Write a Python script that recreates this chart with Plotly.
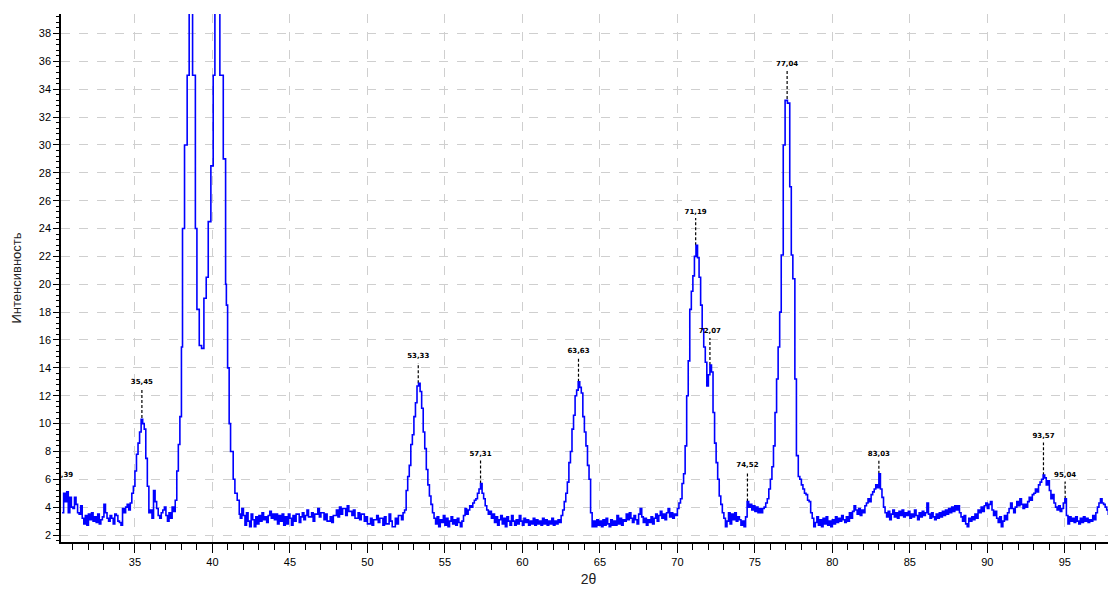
import plotly.graph_objects as go

# ---- scan data: (2theta, intensity) ----
scan_30_35 = [
    (30.3, 3.6), (30.4, 5.0), (30.5, 4.4), (30.6, 5.1), (30.7, 3.6), (30.8, 4.7), (30.9, 4.0), (31.0, 3.9),
    (31.1, 4.7), (31.2, 4.2), (31.3, 3.6), (31.4, 3.5), (31.5, 4.1), (31.6, 3.2), (31.7, 2.8), (31.8, 3.4),
    (31.9, 2.7), (32.0, 3.5), (32.1, 3.1), (32.2, 3.6), (32.3, 3.0), (32.4, 3.3), (32.5, 2.9), (32.6, 3.5),
    (32.7, 2.8), (32.8, 3.1), (32.9, 3.3), (33.0, 4.2), (33.1, 3.6), (33.2, 3.2), (33.3, 3.0), (33.4, 3.4),
    (33.5, 3.2), (33.6, 2.8), (33.7, 3.5), (33.8, 3.4), (33.9, 3.0), (34.0, 2.9), (34.1, 2.7), (34.2, 3.9),
    (34.3, 3.6), (34.4, 4.0), (34.5, 4.2), (34.6, 3.8), (34.7, 4.3), (34.8, 5.0), (34.9, 5.5),
]
scan_35_38 = [
    (35.0, 6.6), (35.1, 7.8), (35.2, 8.6), (35.3, 9.4), (35.4, 10.3), (35.5, 10.0), (35.6, 9.6), (35.7, 7.5),
    (35.8, 5.5), (35.9, 3.6), (36.0, 3.8), (36.1, 3.2), (36.2, 5.2), (36.3, 4.4), (36.4, 3.9), (36.5, 3.4),
    (36.6, 3.2), (36.7, 3.6), (36.8, 3.8), (36.9, 4.0), (37.0, 3.4), (37.1, 3.0), (37.2, 3.6), (37.3, 3.2),
    (37.4, 4.0), (37.5, 3.7), (37.6, 4.5), (37.7, 6.6), (37.8, 8.5), (37.9, 10.5),
]
scan_38_42 = [
    (38.0, 15.5), (38.07, 24.0), (38.2, 30.0), (38.37, 35.0), (38.5, 42.0), (38.72, 35.0), (38.9, 24.0),
    (39.0, 18.2), (39.15, 15.6), (39.3, 15.4), (39.45, 19.0), (39.6, 20.5), (39.73, 24.5), (39.9, 28.5),
    (40.05, 35.0), (40.16, 42.0), (40.48, 35.0), (40.7, 29.0), (40.85, 20.0), (40.9, 18.5), (40.98, 14.0),
    (41.08, 10.0), (41.17, 8.0), (41.34, 6.0), (41.45, 5.0), (41.6, 4.5), (41.73, 3.5), (41.8, 3.2),
]
scan_42_52 = [
    (41.9, 3.9), (42.0, 3.4), (42.1, 2.7), (42.2, 3.6), (42.3, 3.0), (42.4, 2.6), (42.5, 3.5), (42.6, 3.1),
    (42.7, 2.6), (42.8, 3.3), (42.9, 2.8), (43.0, 3.4), (43.1, 3.0), (43.2, 3.6), (43.3, 3.1), (43.4, 3.3),
    (43.5, 2.9), (43.6, 3.4), (43.7, 3.7), (43.8, 3.2), (43.9, 3.5), (44.0, 3.1), (44.1, 3.5), (44.2, 2.8),
    (44.3, 3.4), (44.4, 3.0), (44.5, 3.5), (44.6, 2.7), (44.7, 3.3), (44.8, 2.8), (44.9, 3.5), (45.0, 3.2),
    (45.1, 2.7), (45.2, 3.4), (45.3, 3.0), (45.4, 3.5), (45.6, 2.9), (45.7, 3.3), (45.8, 3.6), (45.9, 3.1),
    (46.0, 3.4), (46.1, 3.8), (46.2, 3.3), (46.4, 3.6), (46.5, 3.0), (46.6, 3.5), (46.8, 3.9), (46.9, 3.3),
    (47.0, 3.6), (47.2, 3.1), (47.3, 3.5), (47.4, 3.0), (47.6, 3.3), (47.7, 2.9), (47.8, 3.4), (48.0, 3.8),
    (48.1, 3.3), (48.2, 4.0), (48.3, 3.5), (48.4, 3.9), (48.6, 3.4), (48.7, 4.1), (48.8, 3.7), (49.0, 3.4),
    (49.1, 3.8), (49.2, 3.2), (49.4, 3.6), (49.5, 3.1), (49.6, 3.5), (49.8, 3.0), (49.9, 3.3), (50.0, 2.8),
    (50.2, 3.2), (50.3, 2.7), (50.4, 3.1), (50.6, 3.4), (50.7, 2.9), (50.8, 3.2), (51.0, 2.7), (51.1, 3.3),
    (51.2, 2.8), (51.4, 3.5), (51.5, 3.0), (51.6, 2.6), (51.8, 3.2), (51.9, 2.8), (52.0, 3.4), (52.2, 3.1),
    (52.3, 3.6),
]
scan_52_58 = [
    (52.4, 3.8), (52.5, 5.2), (52.6, 6.2), (52.7, 7.0), (52.8, 8.5), (52.9, 9.2), (53.0, 10.5), (53.1, 11.5),
    (53.2, 12.7), (53.3, 12.9), (53.4, 12.3), (53.5, 11.1), (53.6, 9.4), (53.7, 8.2), (53.8, 6.7), (53.9, 5.6),
    (54.0, 4.8), (54.1, 4.2), (54.2, 3.6), (54.3, 3.2), (54.4, 2.8), (54.5, 3.3), (54.6, 2.6), (54.7, 3.1),
    (54.8, 2.9), (54.9, 3.4), (55.0, 2.7), (55.1, 3.2), (55.2, 2.6), (55.3, 3.0), (55.4, 3.3), (55.5, 2.8),
    (55.6, 3.1), (55.7, 2.7), (55.8, 3.2), (55.9, 2.9), (56.0, 2.6), (56.1, 3.0), (56.2, 3.4), (56.3, 3.9),
    (56.4, 3.5), (56.5, 3.8), (56.6, 4.1), (56.7, 4.0), (56.8, 4.3), (56.9, 4.5), (57.0, 4.6), (57.1, 5.0),
    (57.2, 5.3), (57.3, 5.7), (57.4, 5.0), (57.5, 4.6), (57.6, 4.1), (57.7, 3.8), (57.8, 3.5), (57.9, 3.7),
]
scan_58_65 = [
    (58.0, 3.2), (58.1, 3.5), (58.2, 2.9), (58.3, 3.3), (58.4, 2.7), (58.5, 3.1), (58.6, 3.4), (58.7, 2.8),
    (58.8, 3.2), (58.9, 2.6), (59.0, 3.3), (59.1, 3.0), (59.2, 2.7), (59.3, 3.4), (59.4, 3.0), (59.5, 2.7),
    (59.6, 3.1), (59.7, 2.8), (59.8, 3.4), (59.9, 3.0), (60.0, 2.7), (60.1, 3.2), (60.2, 2.9), (60.3, 3.1),
    (60.4, 2.7), (60.5, 3.0), (60.6, 2.8), (60.7, 3.2), (60.8, 2.7), (60.9, 3.1), (61.0, 2.8), (61.1, 3.0),
    (61.2, 2.7), (61.3, 3.2), (61.4, 2.8), (61.5, 3.1), (61.6, 2.7), (61.7, 3.0), (61.8, 2.8), (61.9, 3.2),
    (62.0, 2.7), (62.1, 3.0), (62.2, 2.8), (62.3, 3.1), (62.4, 2.9), (62.5, 3.4), (62.6, 3.8), (62.7, 4.4),
    (62.8, 5.0), (62.9, 5.8), (63.0, 7.2), (63.1, 8.0), (63.2, 9.6), (63.3, 10.6), (63.4, 12.0), (63.5, 12.4),
    (63.6, 13.0), (63.7, 12.6), (63.8, 12.2), (63.9, 10.5), (64.0, 9.4), (64.1, 8.4), (64.2, 7.0), (64.3, 6.0),
    (64.4, 3.6), (64.5, 2.6),
]
scan_65_70 = [
    (64.6, 3.0), (64.7, 2.6), (64.8, 3.1), (64.9, 2.7), (65.0, 3.0), (65.1, 2.6), (65.2, 3.1), (65.3, 2.7),
    (65.4, 3.2), (65.5, 2.8), (65.6, 2.6), (65.7, 3.1), (65.8, 2.7), (65.9, 3.0), (66.0, 2.7), (66.1, 3.4),
    (66.2, 2.8), (66.3, 3.2), (66.4, 2.7), (66.5, 3.1), (66.6, 3.0), (66.7, 3.5), (66.8, 3.1), (66.9, 3.6),
    (67.0, 3.2), (67.1, 2.9), (67.2, 3.4), (67.3, 3.1), (67.4, 2.8), (67.5, 3.5), (67.6, 3.9), (67.7, 3.3),
    (67.8, 2.9), (67.9, 3.2), (68.0, 2.7), (68.1, 3.1), (68.2, 2.9), (68.3, 3.3), (68.4, 2.8), (68.5, 3.2),
    (68.6, 3.5), (68.7, 3.0), (68.8, 3.4), (68.9, 3.7), (69.0, 3.2), (69.1, 3.5), (69.2, 3.1), (69.3, 3.6),
    (69.4, 3.9), (69.5, 3.3), (69.6, 3.6), (69.7, 3.2), (69.8, 3.5), (69.9, 3.4), (70.0, 3.9),
]
scan_70_79 = [
    (70.1, 4.3), (70.2, 4.6), (70.3, 5.7), (70.4, 6.4), (70.5, 8.4), (70.6, 12.0), (70.7, 14.5), (70.8, 18.2),
    (70.9, 19.5), (71.0, 20.6), (71.1, 22.0), (71.2, 22.8), (71.3, 21.9), (71.4, 20.5), (71.5, 18.5), (71.6, 16.8),
    (71.7, 15.5), (71.8, 14.4), (71.9, 12.7), (72.0, 13.5), (72.1, 14.2), (72.2, 13.7), (72.3, 10.8), (72.4, 8.6),
    (72.5, 7.2), (72.6, 6.0), (72.7, 4.8), (72.8, 4.2), (72.9, 3.6), (73.0, 3.2), (73.1, 2.6), (73.2, 3.0),
    (73.3, 3.6), (73.4, 2.8), (73.5, 3.5), (73.6, 3.1), (73.7, 3.6), (73.8, 3.0), (73.9, 3.3), (74.0, 3.1),
    (74.1, 2.7), (74.2, 3.0), (74.3, 2.6), (74.4, 3.3), (74.5, 4.4), (74.6, 4.0), (74.7, 4.2), (74.8, 3.8),
    (74.9, 4.1), (75.0, 3.7), (75.1, 4.0), (75.2, 3.6), (75.3, 3.9), (75.4, 3.6), (75.5, 3.9), (75.6, 4.0),
    (75.7, 4.3), (75.8, 4.6), (75.9, 5.3), (76.0, 6.0), (76.1, 6.9), (76.2, 8.4), (76.3, 10.8), (76.4, 13.2),
    (76.5, 15.5), (76.6, 18.0), (76.7, 22.1), (76.83, 30.0), (76.95, 33.2), (77.1, 33.0), (77.25, 27.0),
    (77.35, 22.1), (77.45, 20.4), (77.58, 13.2), (77.68, 7.7), (77.8, 6.2), (77.9, 6.0), (78.0, 5.6),
    (78.1, 5.3), (78.2, 5.0), (78.3, 4.9), (78.4, 4.5), (78.5, 4.4), (78.6, 3.6), (78.7, 3.2), (78.8, 2.6),
    (78.9, 2.9),
]
scan_79_89 = [
    (79.0, 3.3), (79.1, 2.7), (79.2, 3.1), (79.3, 2.6), (79.4, 3.2), (79.5, 2.8), (79.6, 3.3), (79.7, 2.7),
    (79.8, 3.0), (79.9, 2.6), (80.0, 3.1), (80.1, 2.8), (80.2, 3.3), (80.3, 2.9), (80.4, 3.2), (80.5, 3.0),
    (80.6, 3.4), (80.7, 3.1), (80.8, 2.9), (80.9, 3.3), (81.0, 3.0), (81.1, 3.6), (81.2, 3.2), (81.3, 3.7),
    (81.4, 4.1), (81.5, 3.8), (81.6, 3.5), (81.7, 3.9), (81.8, 3.4), (81.9, 3.8), (82.0, 3.6), (82.1, 4.1),
    (82.2, 4.3), (82.3, 4.6), (82.4, 4.4), (82.5, 4.9), (82.6, 5.1), (82.7, 5.3), (82.8, 5.6), (82.9, 5.4),
    (83.0, 6.4), (83.1, 5.3), (83.2, 4.7), (83.3, 4.0), (83.4, 3.6), (83.5, 3.3), (83.6, 3.7), (83.7, 3.1),
    (83.8, 3.5), (83.9, 3.8), (84.0, 3.3), (84.1, 3.6), (84.2, 3.2), (84.3, 3.7), (84.4, 3.4), (84.5, 3.8),
    (84.6, 3.3), (84.7, 3.6), (84.8, 3.4), (84.9, 3.7), (85.0, 3.2), (85.1, 3.5), (85.2, 3.3), (85.3, 3.8),
    (85.4, 3.4), (85.5, 3.1), (85.6, 3.6), (85.7, 3.3), (85.8, 3.7), (85.9, 3.4), (86.0, 3.6), (86.1, 4.3),
    (86.2, 3.5), (86.3, 3.2), (86.4, 3.6), (86.5, 3.3), (86.6, 3.1), (86.7, 3.5), (86.8, 3.2), (86.9, 3.6),
    (87.0, 3.3), (87.1, 3.7), (87.2, 3.4), (87.3, 3.8), (87.4, 3.5), (87.5, 3.9), (87.6, 3.6), (87.7, 4.0),
    (87.8, 3.7), (87.9, 4.1), (88.0, 3.8), (88.1, 4.1), (88.2, 3.6), (88.3, 3.3), (88.4, 3.0), (88.5, 3.4),
    (88.6, 2.8), (88.7, 2.6), (88.8, 3.2), (88.9, 3.0),
]
scan_89_98 = [
    (89.0, 3.3), (89.1, 3.1), (89.2, 3.5), (89.3, 3.2), (89.4, 3.8), (89.5, 3.6), (89.6, 4.0), (89.7, 3.7),
    (89.8, 4.1), (89.9, 4.3), (90.0, 3.9), (90.1, 4.2), (90.2, 4.4), (90.3, 3.8), (90.4, 3.4), (90.5, 3.7),
    (90.6, 3.2), (90.7, 2.9), (90.8, 3.3), (90.9, 2.6), (91.0, 3.0), (91.1, 3.4), (91.2, 3.1), (91.3, 3.6),
    (91.4, 3.9), (91.5, 4.3), (91.6, 3.9), (91.7, 3.6), (91.8, 4.0), (91.9, 4.4), (92.0, 4.1), (92.1, 4.6),
    (92.2, 4.2), (92.3, 3.9), (92.4, 4.2), (92.5, 4.0), (92.6, 4.4), (92.7, 4.7), (92.8, 4.5), (92.9, 4.9),
    (93.0, 5.0), (93.1, 5.3), (93.2, 5.1), (93.3, 5.6), (93.4, 5.8), (93.5, 6.0), (93.6, 6.3), (93.7, 6.1),
    (93.8, 5.6), (93.9, 5.9), (94.0, 5.2), (94.1, 4.6), (94.2, 4.9), (94.3, 4.3), (94.4, 4.0), (94.5, 3.8),
    (94.6, 4.1), (94.7, 3.7), (94.8, 3.9), (94.9, 4.3), (95.0, 4.6), (95.1, 3.4), (95.2, 2.8), (95.3, 3.3),
    (95.4, 3.0), (95.5, 3.2), (95.6, 2.9), (95.7, 3.3), (95.8, 3.0), (95.9, 2.8), (96.0, 3.2), (96.1, 2.9),
    (96.2, 3.3), (96.3, 3.0), (96.4, 3.2), (96.5, 2.9), (96.6, 3.1), (96.7, 3.0), (96.8, 3.4), (96.9, 3.1),
    (97.0, 3.6), (97.1, 4.0), (97.2, 4.3), (97.3, 4.6), (97.4, 4.3), (97.5, 4.2), (97.6, 4.0), (97.7, 3.8),
    (97.8, 3.5), (97.9, 3.7), (98.0, 3.2), (98.1, 2.8), (98.2, 3.4), (98.3, 3.0),
]

# ---- peak labels ----
peak_pos = [30.3, 35.45, 53.28, 57.3, 63.62, 71.18, 72.1, 74.52, 77.08, 83.0, 93.62, 95.02]
peak_text = ["30,39", "35,45", "53,33", "57,31", "63,63", "71,19", "72,07", "74,52", "77,04", "83,03", "93,57", "95,04"]
peak_top = [6.0, 10.4, 12.9, 5.7, 13.0, 22.8, 14.2, 4.4, 33.3, 6.4, 6.3, 4.6]
label_y = [6.3, 13.0, 14.8, 7.8, 15.2, 25.2, 16.6, 7.0, 35.8, 7.8, 9.1, 6.3]

y_ticks = list(range(2, 40, 2))
x_ticks = list(range(35, 100, 5))

segments = [scan_30_35, scan_35_38, scan_38_42, scan_42_52, scan_52_58,
            scan_58_65, scan_65_70, scan_70_79, scan_79_89, scan_89_98]
xs, ys = [], []
for seg in segments:
    for a, b in seg:
        xs.append(a)
        ys.append(b)

fig = go.Figure()

# dashed leader lines from peak to label
for p, top, ly in zip(peak_pos[1:], peak_top[1:], label_y[1:]):
    fig.add_trace(go.Scatter(x=[p, p], y=[top, ly - 0.45], mode="lines",
                             line=dict(color="black", width=1.2, dash="3px,2px"),
                             hoverinfo="skip", showlegend=False, cliponaxis=True))

fig.add_trace(go.Scatter(x=xs, y=ys, mode="lines", line=dict(color="#0000ff", width=1.6, shape="hv"),
                         showlegend=False, cliponaxis=True))

fig.add_trace(go.Scatter(x=peak_pos, y=label_y, mode="text", text=peak_text,
                         textfont=dict(family="DejaVu Sans", size=7, color="black", weight="bold"),
                         textposition="middle center", showlegend=False, cliponaxis=True,
                         hoverinfo="skip"))

fig.update_layout(
    width=1116, height=590,
    margin=dict(l=53, r=8, t=6, b=56, autoexpand=False),
    paper_bgcolor="white", plot_bgcolor="white",
    font=dict(family="Liberation Sans", color="black"),
)
fig.update_xaxes(
    range=[30.23, 98.3], tickvals=x_ticks, ticktext=[str(v) for v in x_ticks],
    ticks="outside", ticklen=9, tickwidth=1.3, tickcolor="black",
    showline=True, linecolor="black", linewidth=1.5, automargin=False,
    showgrid=True, gridcolor="#cfcfcf", gridwidth=1, griddash="dash",
    zeroline=False, tickfont=dict(size=11, color="black"),
    minor=dict(dtick=1, tick0=30, ticks="outside", ticklen=6, tickcolor="black", tickwidth=1.3, showgrid=False),
    title=dict(text="2θ", font=dict(size=14, color="#222"), standoff=7),
)
fig.update_yaxes(
    range=[1.5, 39.4], tickvals=y_ticks, ticktext=[str(v) for v in y_ticks],
    ticks="outside", ticklen=6, tickwidth=1.3, tickcolor="black",
    showline=True, linecolor="black", linewidth=1.5, automargin=False,
    showgrid=True, gridcolor="#cfcfcf", gridwidth=1, griddash="dash",
    zeroline=False, tickfont=dict(size=11, color="black"),
    minor=dict(dtick=0.4, tick0=2, ticks="outside", ticklen=3, tickcolor="black", tickwidth=1, showgrid=False),
    title=dict(text="Интенсивность", font=dict(size=13, color="#222"), standoff=14),
)

fig.write_html("out.html")
